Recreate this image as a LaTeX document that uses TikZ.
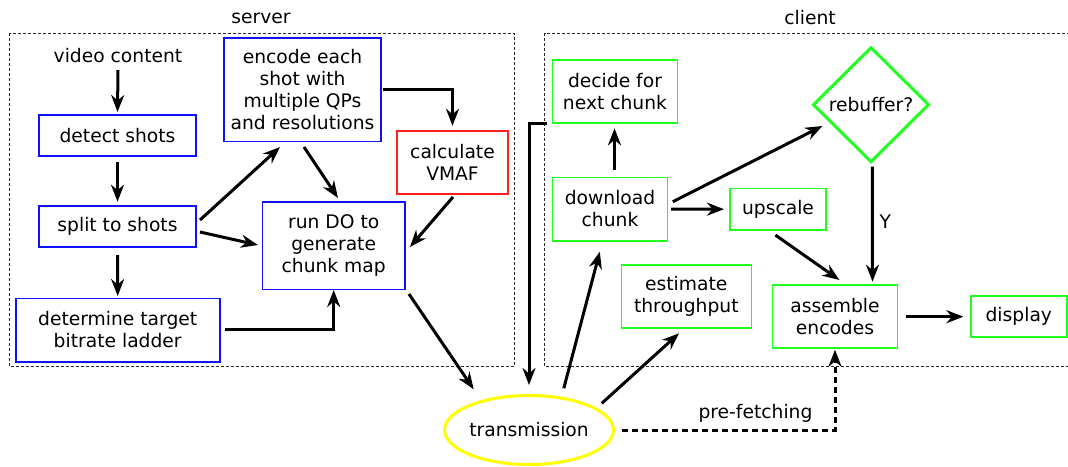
\documentclass[tikz,border=0pt]{standalone}
\usepackage{fontspec}
\setmainfont{DejaVu Sans}
\usetikzlibrary{arrows.meta,shapes.geometric,calc}
\definecolor{cblue}{RGB}{16,16,255}
\definecolor{cred}{RGB}{255,32,32}
\definecolor{cgreen}{RGB}{32,255,32}
\definecolor{cyellow}{RGB}{255,255,0}
\begin{document}
\begin{tikzpicture}[x=1pt,y=-1pt,
  txt/.style={font=\fontsize{18.7}{22}\selectfont, align=center, inner sep=0pt, outer sep=0pt},
  box/.style={txt, line width=1.6pt},
  bbox/.style={box, draw=cblue},
  rbox/.style={box, draw=cred},
  gbox/.style={box, draw=cgreen},
  arr/.style={line width=3pt, -{Stealth[length=17pt,width=13pt,inset=5.5pt]}},
  dasharr/.style={line width=3pt, dash pattern=on 6pt off 4pt, -{Stealth[length=17pt,width=13pt,inset=5.5pt]}},
  dashbox/.style={line width=1pt, black!85, dash pattern=on 3pt off 2pt}
]
\useasboundingbox (0,0) rectangle (1068,466);

% frames
\draw[dashbox] (9,33.3) rectangle (514.2,366.7);
\draw[dashbox] (1075,33.3) -- (544.5,33.3) -- (544.5,366.7) -- (1075,366.7);
\node[txt] (server) at (261,18) {server};
\node[txt] (client) at (810,18) {client};

% server nodes
\node[txt] (video) at (118,56) {video content};
\node[bbox, minimum width=157pt, minimum height=41pt] (detect) at (117.5,135.5) {detect shots};
\node[bbox, minimum width=157pt, minimum height=41pt] (split) at (117.5,226.2) {split to shots};
\node[bbox, minimum width=204pt, minimum height=63.4pt] (determine) at (117.7,330) {determine target\\bitrate ladder};
\node[bbox, minimum width=157pt, minimum height=103.6pt] (encode) at (302.5,89.5) {encode each\\shot with\\multiple QPs\\and resolutions};
\node[rbox, minimum width=111pt, minimum height=63pt] (vmaf) at (452.5,162.3) {calculate\\VMAF};
\node[bbox, minimum width=142.5pt, minimum height=87.6pt] (rundo) at (333.7,245.5) {run DO to\\generate\\chunk map};
\node[txt, ellipse, draw=cyellow, line width=3pt, minimum width=165pt, minimum height=69pt] (trans) at (529,430) {transmission};

% client nodes
\node[gbox, minimum width=125pt, minimum height=63pt] (decide) at (615,91.7) {decide for\\next chunk};
\node[gbox, minimum width=115pt, minimum height=63.4pt] (download) at (610,209) {download\\chunk};
\node[gbox, minimum width=96pt, minimum height=41.7pt] (upscale) at (778,209.2) {upscale};
\node[txt, diamond, draw=cgreen, line width=3pt, minimum width=115pt, minimum height=114pt] (rebuffer) at (871,104.7) {rebuffer?};
\node[gbox, minimum width=130pt, minimum height=63pt] (estimate) at (686.3,296.7) {estimate\\throughput};
\node[gbox, minimum width=125pt, minimum height=63pt] (assemble) at (835,316.7) {assemble\\encodes};
\node[gbox, minimum width=96pt, minimum height=41pt] (display) at (1018.8,316.7) {display};

% server arrows
\draw[arr] ($(video.center)+(0,14)$) -- ($(detect.north)+(0,-3)$);
\draw[arr] ($(detect.south)+(0,6)$) -- ($(split.north)+(0,-4)$);
\draw[arr] ($(split.south)+(0,8.3)$) -- ($(determine.north)+(0,-2.3)$);
\draw[arr] ($(split.east)+(4,-6.2)$) -- ($(encode.south)+(-22.5,5.7)$);
\draw[arr] ($(split.east)+(4,5.8)$) -- ($(rundo.west)+(-4.5,-0.5)$);
\draw[arr] ($(encode.south)+(1.5,5.7)$) -- ($(rundo.north)+(4.3,-3.7)$);
\draw[arr] ($(encode.east)+(2,0)$) -| ($(vmaf.north)+(0,-5)$);
\draw[arr] ($(vmaf.south)+(0.5,3.2)$) -- ($(rundo.east)+(5,1.5)$);
\draw[arr] ($(determine.east)+(5.3,-0.7)$) -| ($(rundo.south)+(0,0.7)$);
\draw[arr] ($(rundo.south east)+(4,4.7)$) -- ($(trans.center)+(-55.3,-40.7)$);

% transmission links
\coordinate (feed) at ($(decide.south west)+(-5.5,0)$);
\coordinate (feedcorner) at ($(feed)+(-18,0)$);
\coordinate (feedend) at ($(trans.north)+(0,-10.5)$);
\draw[arr] (feed) -- (feedcorner) -- (feedcorner |- feedend);
\draw[arr] ($(trans.center)+(34.8,-41.7)$) -- ($(download.south)+(-10.2,11)$);
\draw[arr] ($(trans.center)+(72.8,-26.7)$) -- ($(estimate.south)+(-7.3,5.1)$);
\draw[dasharr] ($(trans.east)+(8.9,0)$) -| ($(assemble.south)+(0,1.5)$);
\node[txt] (prefetch) at (755.5,413.3) {pre-fetching};

% client arrows
\draw[arr] ($(download.north)+(4.5,-7.3)$) -- ($(decide.south)+(-0.5,5.1)$);
\draw[arr] ($(download.east)+(5.3,-7.3)$) -- ($(rebuffer.center)+(-48.6,21.3)$);
\draw[arr] ($(download.east)+(3.5,0)$) -- ($(upscale.west)+(-6,0)$);
\draw[arr] ($(rebuffer.south)+(1.4,5)$) -- ($(assemble.north)+(37.5,-3.5)$);
\node[txt] (ylabel) at (885.4,221.7) {Y};
\draw[arr] ($(upscale.south)+(-2.6,5)$) -- ($(assemble.north)+(4.4,-5.2)$);
\draw[arr] ($(assemble.east)+(8,0)$) -- ($(display.west)+(-7.4,0)$);
\end{tikzpicture}
\end{document}
